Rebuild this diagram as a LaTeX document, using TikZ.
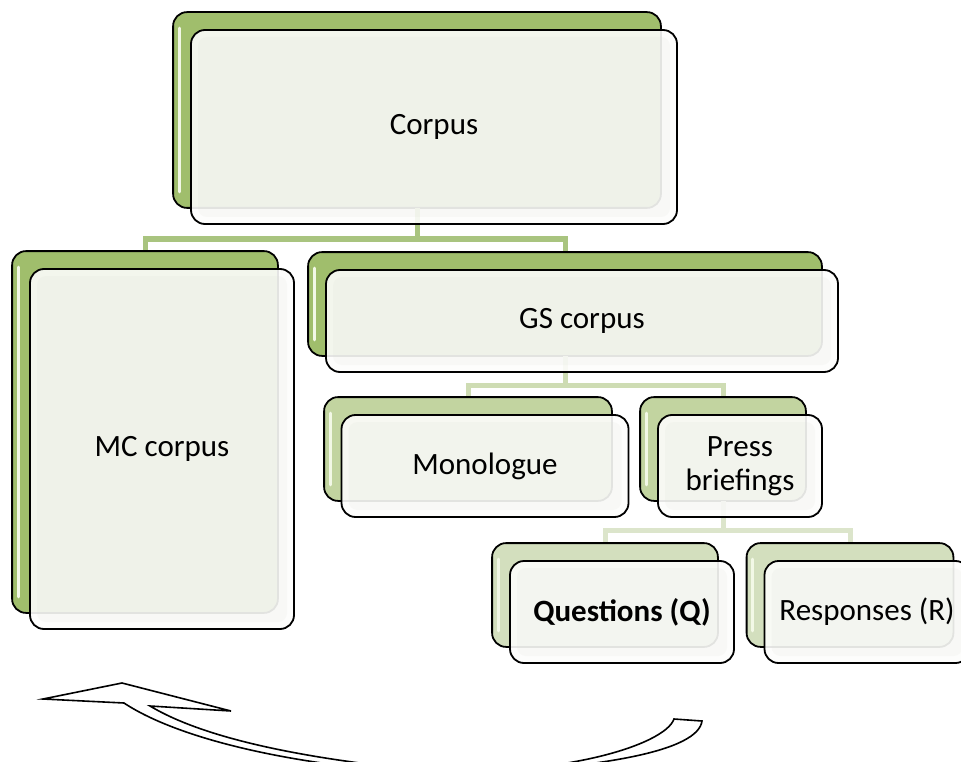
\documentclass[tikz,border=0pt]{standalone}
\usepackage{fontspec}
\setmainfont{Carlito}
\definecolor{gA}{HTML}{A0BE6C}
\definecolor{gB}{HTML}{C2D4A0}
\definecolor{gC}{HTML}{D3DFBE}
\definecolor{cA}{HTML}{A9C47F}
\definecolor{cB}{HTML}{CEDCB3}
\definecolor{cC}{HTML}{DCE5CB}
\definecolor{hlite}{HTML}{F2F8E6}
\definecolor{frontfill}{HTML}{FDFDFC}
\definecolor{innerfill}{HTML}{DADDD2}
\tikzset{
  backbox/.style={draw=black, line width=1.8pt, rounded corners=14pt, fill=#1, inner sep=0pt},
  frontbox/.style={draw=black, line width=1.8pt, rounded corners=14pt, fill=frontfill,
    fill opacity=0.9, text opacity=1, inner sep=0pt, align=center,
    font=\fontsize{31}{34}\selectfont,
    path picture={\fill[innerfill, fill opacity=0.14, rounded corners=9pt]
      ([shift={(7,7)}]path picture bounding box.north west) rectangle
      ([shift={(-7,-7)}]path picture bounding box.south east);}},
  conn/.style={line width=5pt, draw=#1},
  hlline/.style={draw=hlite, line width=3pt, line cap=round},
  bigarrow/.style={draw=black, line width=1.6pt, fill=white, line join=miter},
}
\begin{document}
\begin{tikzpicture}[x=1pt,y=-1pt]
\clip (0,0) rectangle (961,762);
\fill[white] (0,0) rectangle (961,762);

% back boxes (positions)
\path
  node[backbox=gA, minimum width=486pt, minimum height=194pt] (corpusB) at (417,110) {}
  node[backbox=gA, minimum width=264pt, minimum height=360pt] (mcB) at (145,432) {}
  node[backbox=gA, minimum width=512pt, minimum height=102pt] (gsB) at (565,304) {}
  node[backbox=gB, minimum width=286pt, minimum height=102pt] (monoB) at (468,449) {}
  node[backbox=gB, minimum width=164pt, minimum height=102pt] (pressB) at (723,449) {}
  node[backbox=gC, minimum width=224pt, minimum height=102pt] (qB) at (605,595) {}
  node[backbox=gC, minimum width=205pt, minimum height=102pt] (rB) at (850,595) {};

% connectors
\coordinate (j1) at (417,239);
\coordinate (j2) at (565,385);
\coordinate (j3) at (723,530);
\draw[conn=cA] (corpusB.south) -- (j1);
\draw[conn=cA] (mcB.north) |- (j1) -| (gsB.north);
\draw[conn=cB] (gsB.south) -- (j2);
\draw[conn=cB] (monoB.north) |- (j2) -| (pressB.north);
\draw[conn=cC] (pressB.south) -- (j3);
\draw[conn=cC] (qB.north) |- (j3) -| (rB.north);

% redraw back boxes above connectors
\foreach \b/\c in {corpusB/gA, mcB/gA, gsB/gA, monoB/gB, pressB/gB, qB/gC, rB/gC}{
  \draw[backbox=\c] (\b.north west) rectangle (\b.south east);
  \draw[hlline] ([shift={(6,16)}]\b.north west) -- ([shift={(6,-16)}]\b.south west);
}
% stems faintly visible through the front boxes
\draw[conn=cA] (corpusB.south) -- (j1);
\draw[conn=cB] (gsB.south) -- (j2);
\draw[conn=cC] (pressB.south) -- (j3);

% front boxes with text
\node[frontbox, minimum width=486pt, minimum height=194pt] (corpusF) at (434,127) {Corpus};
\node[frontbox, minimum width=264pt, minimum height=360pt] (mcF) at (162,449) {MC corpus};
\node[frontbox, minimum width=512pt, minimum height=102pt] (gsF) at (582,321) {GS corpus};
\node[frontbox, minimum width=287pt, minimum height=102pt] (monoF) at (485,466) {Monologue};
\node[frontbox, minimum width=164pt, minimum height=102pt] (pressF) at (740,466) {Press\\briefings};
\node[frontbox, minimum width=224pt, minimum height=102pt] (qF) at (622,612) {\bfseries Questions (Q)};
\node[frontbox, minimum width=205pt, minimum height=102pt] (rF) at (867,612) {Responses (R)};

% curved block arrow
\draw[bigarrow]
  (43,699) -- (122,683) -- (231,711) -- (150,706)
  .. controls (210,742) and (320,760) .. (420,770)
  .. controls (560,778) and (665,745) .. (674,719)
  -- (702,721)
  .. controls (698,750) and (610,768) .. (450,775)
  .. controls (300,768) and (180,740) .. (124,703)
  -- cycle;
\end{tikzpicture}
\end{document}
